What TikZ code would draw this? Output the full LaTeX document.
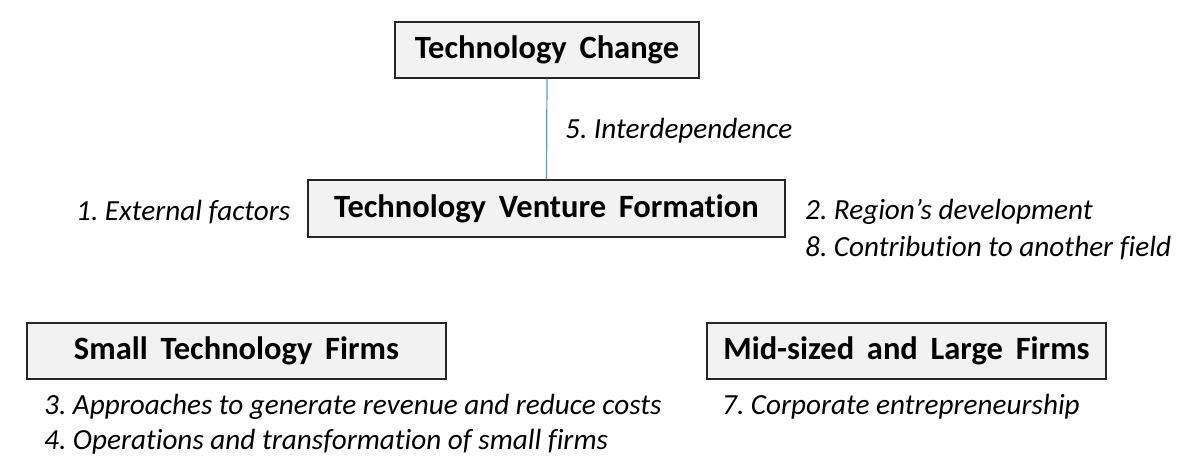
\documentclass[tikz,border=0pt]{standalone}
\usepackage{fontspec}
\setmainfont[Ligatures=NoCommon]{Carlito}
\frenchspacing
\definecolor{boxfill}{HTML}{F2F2F2}
\definecolor{linkblue}{HTML}{5B9BD5}
\begin{document}
\begin{tikzpicture}[x=1pt,y=-1pt,
  titlebox/.style={draw=black!85, line width=1.3pt, fill=boxfill, inner sep=0pt, font=\fontsize{32.5}{38}\selectfont\bfseries},
  lab/.style={font=\fontsize{29.2}{34}\selectfont\itshape, inner sep=0pt, anchor=west}]
\useasboundingbox (0,0) rectangle (1200,473);
\node[titlebox, minimum width=304pt, minimum height=56pt] (tc) at (547,50) {Technology\, Change};
\node[titlebox, minimum width=477pt, minimum height=57pt] (tvf) at (546.5,208.5) {Technology\, Venture\, Formation\hspace{10pt}};
\node[titlebox, minimum width=419pt, minimum height=56pt] (stf) at (236.5,351) {Small\, Technology\, Firms};
\node[titlebox, minimum width=399pt, minimum height=56pt] (mlf) at (906.5,351) {Mid-sized\, and\, Large\, Firms};
\draw[linkblue, line width=1.2pt] (tc.south) -- (tvf.north);
\node[lab] (l5) at (565,131) {5. Interdependence};
\node[lab] (l1) at (76,212) {1. External factors};
\node[lab] (l2) at (805,212) {2. Region’s development};
\node[lab] (l8) at (805,248) {8. Contribution to another field};
\node[lab] (l3) at (44,407) {3. Approaches to generate revenue and reduce costs};
\node[lab] (l4) at (44,442) {4. Operations and transformation of small firms};
\node[lab] (l7) at (722,407) {7. Corporate entrepreneurship};
\end{tikzpicture}
\end{document}
